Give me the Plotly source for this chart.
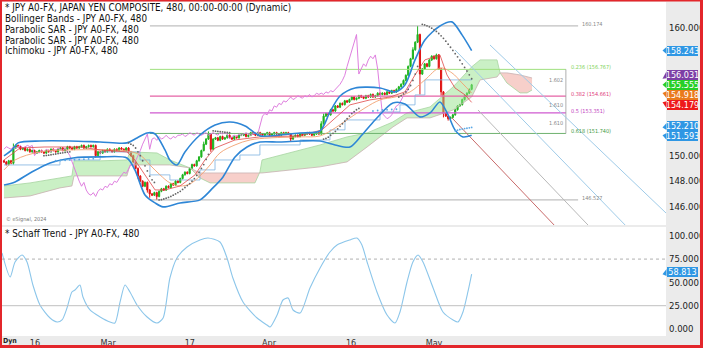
import plotly.graph_objects as go

W, H = 703, 348

# ---------------- price data (8-hour bars, bar index 0..199) ----------------
CLOSE = [
    149.5, 149.3, 149.6, 149.4,
    150.6, 150.8,
    150.7, 150.5, 150.6, 150.4, 150.5, 150.3, 150.4, 150.2, 150.3, 150.4,
    150.3, 150.2, 150.4, 150.3, 150.5, 150.4, 150.3, 150.5, 150.6, 150.4, 150.5, 150.7,
    150.6, 150.5, 150.7, 150.6, 150.7, 150.8, 150.6, 150.7, 150.8, 150.7, 150.8,
    150.0,
    150.3, 150.2, 150.4, 150.3, 150.5, 150.4, 150.3, 150.5, 150.4, 150.6, 150.5, 150.4, 150.6,
    150.3, 150.0, 149.5, 149.0, 148.4,
    148.0, 147.6, 147.9, 147.3,
    147.0, 146.9, 147.1, 146.8,
    147.2, 147.4, 147.3, 147.6, 147.5, 147.8, 147.7, 148.0, 147.9, 148.2,
    148.5, 148.7, 148.6, 149.0, 149.3, 149.2, 149.6, 149.9,
    150.4, 150.9, 151.3, 151.7,
    150.5,
    151.3, 151.4, 151.2, 151.5, 151.3, 151.4, 151.6, 151.4, 151.3, 151.5, 151.4, 151.6,
    151.6, 151.7, 151.5, 151.6, 151.8, 151.7, 151.6, 151.8, 151.7, 151.6, 151.7, 151.8,
    151.6, 151.7, 151.8, 151.7, 151.6, 151.8, 151.7, 151.8, 151.7,
    151.3,
    151.5, 151.6, 151.5, 151.7, 151.6, 151.7, 151.8, 151.7, 151.6, 151.7, 151.8, 151.7,
    152.5, 153.1,
    153.3, 153.2, 153.6, 153.5, 153.9, 153.8, 154.1, 154.0, 154.3, 154.2, 154.4,
    154.6, 154.4, 154.5, 154.7, 154.6, 154.5, 154.7, 154.6, 154.8, 154.6, 154.7, 154.9, 154.8,
    154.9, 154.8, 155.0, 154.9, 155.1, 155.0, 155.2,
    155.4, 155.6, 155.9, 156.3,
    157.0, 157.6, 158.3,
    158.9, 159.5,
    156.4,
    156.8, 157.2, 157.0, 157.5, 157.8, 157.6, 157.9,
    156.8, 155.0, 153.3,
    153.1, 152.9, 153.0, 153.2,
    153.6, 153.9, 154.0, 154.4, 154.7, 154.9, 155.2, 155.555,
]
FIRST_OPEN = 149.6
HIGH_WICKS = {4: 150.95, 85: 151.1, 87: 151.9, 135: 152.7, 136: 153.3, 174: 158.5,
              176: 160.174, 184: 158.0}
LOW_WICKS = {4: 149.3, 39: 149.85, 57: 148.2, 61: 147.1, 62: 146.7, 65: 146.527,
             88: 150.3, 122: 151.1, 177: 154.8, 186: 154.7, 187: 153.0, 189: 152.75}
TYPICAL_WICK = 0.07

# ---------------- indicator readings (bar, value) ----------------
BB_UPPER = [(0, 149.98), (3.4, 150.45), (6, 151.0), (15.3, 151.15), (28.1, 151.15),
            (40.9, 151.07), (52.3, 151.0), (56.6, 151.39), (60.9, 151.78), (64.3, 151.7),
            (68.5, 150.45), (70.6, 149.66), (73.6, 149.27), (77, 150.29), (83.4, 151.62),
            (89.8, 152.41), (96.2, 152.64), (102.6, 152.33), (108.9, 151.55), (117.4, 151.62),
            (126, 151.78), (134.5, 151.94), (138.7, 153.43), (143, 154.68), (149.4, 155.31),
            (160, 155.31), (166.4, 155.0), (170.6, 155.55), (174.9, 157.51), (179.1, 159.07),
            (185.5, 160.17), (190.6, 160.49), (194.9, 159.47), (199, 158.243)]
BB_LOWER = [(0, 147.70), (4.7, 147.94), (11.1, 148.64), (19.6, 149.43), (29.4, 149.82),
            (40.9, 149.9), (52.3, 149.82), (55.7, 148.88), (60, 146.92), (64.3, 146.29),
            (67.7, 145.98), (74.9, 146.29), (83.4, 146.53), (88.9, 147.47), (93.2, 148.33),
            (98.3, 149.9), (103.4, 150.68), (108.9, 151.07), (117.4, 151.07), (126, 151.15),
            (134.5, 151.15), (140.9, 150.84), (147.2, 150.68), (152.3, 151.62), (157.9, 152.8),
            (165.5, 154.13), (170.6, 154.05), (177, 153.04), (181.3, 153.35), (185.5, 154.21),
            (189, 153.19), (191.9, 152.02), (195.3, 151.47), (199, 151.593)]
BB_MID = [(0, 148.88), (4.7, 149.66), (15.3, 150.29), (28.1, 150.45), (40.9, 150.45),
          (52.3, 150.37), (57.9, 150.05), (62.1, 149.27), (66.4, 148.49), (70.6, 147.86),
          (74.9, 147.62), (79.1, 147.78), (83.4, 148.41), (87.7, 149.27), (91.9, 150.21),
          (98.3, 150.84), (104.7, 151.23), (113.2, 151.39), (126, 151.47), (134.5, 151.55),
          (140.9, 152.17), (147.2, 152.96), (153.6, 153.74), (160, 154.37), (166.4, 154.6),
          (172.8, 155.0), (179.1, 155.94), (185.5, 156.88), (190.6, 156.49), (194.9, 155.70),
          (199, 154.918)]
TENKAN = [(0, 149.66), (6.8, 150.6), (17.4, 150.68), (32.3, 150.68), (40.9, 150.45),
          (52.3, 150.29), (55.7, 149.66), (60, 148.49), (64.3, 147.31), (68.5, 147.31),
          (74.9, 147.62), (81.3, 148.49), (85.5, 149.66), (89.8, 150.6), (98.3, 151.23),
          (108.9, 151.47), (126, 151.55), (135.3, 152.02), (140.9, 152.96), (147.2, 153.98),
          (155.7, 154.37), (164.3, 154.6), (170.6, 155.0), (174.9, 156.33), (179.1, 157.51),
          (185.5, 157.9), (188.5, 156.33), (191.9, 155.31), (196.2, 154.76), (199, 154.179)]
KIJUN = [(0, 149.27), (23.8, 149.66), (40.9, 150.29), (52.3, 150.29), (57.9, 149.66),
         (62.1, 148.49), (70.6, 148.09), (77, 148.09), (83.4, 148.88), (89.8, 149.66),
         (100.4, 150.05), (108.9, 150.84), (126, 151.23), (138.7, 152.02), (145.1, 152.8),
         (160, 153.43), (168.5, 153.98), (174.9, 154.76), (179.1, 155.94), (199, 156.031)]
# Senkou span A / B (cloud), projected 26 bars ahead
CLOUD_X = [0, 11.1, 23.8, 28.9, 29.8, 40.9, 52.3, 53.6, 65.1, 70.6, 79.1, 83.4, 87.7,
           106.8, 108.9, 109.8, 134.5, 146, 154.5, 165.5, 171.5, 181.3, 191.1, 199,
           202.6, 209.8, 211.1, 214, 219.6, 222.6, 224.7]
SENKOU_A = [147.62, 147.86, 148.25, 148.41, 149.59, 149.59, 149.66, 150.29, 150.21, 149.66,
            149.04, 148.25, 147.86, 147.86, 148.72, 149.66, 150.84, 151.47, 151.78, 152.64,
            153.35, 153.82, 155.39, 156.96, 157.51, 157.51, 156.49, 155.70, 154.92, 154.92,
            155.15]
SENKOU_B = [146.68, 146.84, 147.47, 147.62, 148.41, 148.41, 148.41, 149.27, 149.27, 149.27,
            149.04, 148.64, 148.64, 148.64, 148.64, 148.64, 149.12, 149.51, 150.68, 152.25,
            152.96, 152.96, 153.58, 154.60, 155.94, 156.17, 156.49, 156.49, 156.33, 156.17,
            156.09]
CHIKOU_SHIFT = 26

SAR_BLACK = [(17, 150.0), (18, 150.02), (19, 150.04), (20, 150.07), (21, 150.1), (22, 150.13),
             (23, 150.16), (24, 150.19), (25, 150.22), (26, 150.25), (27, 150.28), (28, 150.3),
             (53, 151.0), (54, 150.9), (55, 150.8), (56, 150.6), (57, 150.3), (58, 150.0),
             (59, 149.6), (60, 149.2), (61, 148.8), (62, 148.4), (63, 148.1), (64, 147.9),
             (66, 146.53), (67, 146.55), (68, 146.6), (69, 146.66), (70, 146.72), (71, 146.8),
             (72, 146.9), (73, 147.0), (74, 147.1), (75, 147.2), (76, 147.35), (77, 147.5),
             (78, 147.65), (79, 147.8), (80, 148.0), (81, 148.2), (82, 148.45), (83, 148.7),
             (84, 149.0), (85, 149.3), (86, 149.7), (87, 150.1),
             (89, 151.95), (90, 151.92), (91, 151.9), (92, 151.88), (93, 151.86), (94, 151.84),
             (95, 151.82), (96, 151.8),
             (136, 151.3), (137, 151.35), (138, 151.45), (139, 151.6), (140, 151.75),
             (141, 151.9), (142, 152.1), (143, 152.3), (144, 152.5), (145, 152.7), (146, 152.9),
             (147, 153.1), (148, 153.3), (149, 153.45), (150, 153.6), (151, 153.7),
             (168, 154.6), (169, 154.7), (170, 154.85), (171, 155.0), (172, 155.2),
             (173, 155.5), (174, 155.9), (175, 156.4), (176, 157.0),
             (178, 160.30), (179, 160.25), (180, 160.18), (181, 160.10), (182, 160.00),
             (183, 159.88), (184, 159.74), (185, 159.58), (186, 159.40), (187, 159.20),
             (188, 158.98), (189, 158.74), (190, 158.50), (191, 158.25), (192, 158.00),
             (193, 157.75), (194, 157.48), (195, 157.20), (196, 156.92), (197, 156.64),
             (198, 156.34), (199, 156.031)]
SAR_BLUE = [(22, 149.6), (24, 149.62), (26, 149.64), (28, 149.66), (30, 149.68), (32, 149.7),
            (34, 149.72), (36, 149.74), (38, 149.76),
            (157, 153.5), (159, 153.54), (161, 153.58), (163, 153.6), (165, 153.62), (167, 153.64),
            (192, 151.95), (193, 152.0), (194, 152.05), (195, 152.08), (196, 152.12),
            (197, 152.15), (198, 152.18), (199, 152.21)]

# Fibonacci retracement (low 146.527 -> high 160.174)
FIB_LEVELS = [160.174, 156.767, 154.661, 153.351, 151.740, 146.527]
FIB_TEXT = ["160.174", "0.236 (156.767)", "0.382 (154.661)", "0.5 (153.351)",
            "0.618 (151.740)", "146.527"]
FIB_COLORS = ["#b0b0b0", "#9ee07e", "#e563a6", "#cf5ad0", "#6fb26f", "#b0b0b0"]
FIB_TEXT_COLORS = ["#888888", "#7fd35a", "#e0407a", "#c040c0", "#3f9a3f", "#888888"]
FIB_START = 62.1
FIB_END_OUTER = 244.3
FIB_END_INNER = 239.1
FIB_RATIOS = [(155.95, "1.602"), (154.0, "1.610"), (152.55, "1.610")]

# Pitchfork-style trend lines: (bar0, price0, bar1, price1, colour)
TREND_LINES = [(190.6, 152.96, 234.5, 144.48, "#c86a6a"),
               (201.7, 153.58, 248.5, 144.56, "#b8b8b8"),
               (191.9, 158.29, 264.3, 144.56, "#9fcbe8"),
               (206.8, 158.68, 281.7, 145.5, "#9fcbe8")]

# Schaff Trend Cycle readings (bar, value)
STC = [(-0.85, 81.5), (2.6, 55.8), (4.7, 71.9), (7.7, 79.4), (9.8, 71.9), (12.3, 47.2),
       (15.3, 25.8), (19.6, 11.8), (22.6, 7.5), (24.7, 9.7), (26.8, 22.5), (28.9, 39.7),
       (30.2, 41.8), (32.3, 47.2), (33.6, 34.3), (36.6, 20.4), (40.9, 12.9), (45.1, 7.5),
       (47.2, 6.4), (49.4, 29), (51.5, 47.2), (53.6, 39.7), (56.6, 25.8), (60.9, 12.9),
       (65.1, 6.4), (67.7, 11.8), (70.6, 54.7), (73.6, 76.2), (77.9, 88), (83.4, 95.5),
       (86.8, 97.6), (91.9, 93.3), (94.9, 76.2), (97.4, 54.7), (101.7, 29), (107.7, 11.8),
       (111.9, 4.3), (113.2, 2.1), (116.2, 15), (118.7, 31.1), (120.9, 33.3), (123, 20.4),
       (126, 17.2), (130.2, 44), (134.5, 65.5), (138.7, 82.6), (141.7, 90.1), (147.2, 95.5),
       (150.2, 97.6), (152.3, 90.1), (154.5, 71.9), (158.7, 39.7), (163, 15), (166.4, 6.4),
       (168.5, 18.2), (171.5, 50.4), (174, 71.9), (176.2, 79.4), (178.3, 71.9), (182.6, 44),
       (186.8, 18.2), (191.1, 9.7), (193.2, 7.5), (195.3, 18.2), (197.4, 39.7), (199, 58.813)]

# Right-hand value tags (value, colour)
PRICE_TAGS = [(158.243, "#2f97e4"), (152.210, "#2f97e4"), (151.593, "#2f97e4"),
              (156.031, "#7d3fa6"), (155.555, "#27cf27"), (154.918, "#ea7a1c"),
              (154.179, "#ee1a1a")]
STC_TAGS = [(58.813, "#2f97e4")]

PRICE_TICKS = [146, 148, 150, 160]
STC_TICKS = [0, 25, 50, 75, 100]
DATE_TICKS = [13.2, 44.3, 79.1, 112.8, 147.7, 183.0]
DATE_LABELS = ["16", "Mar", "17", "Apr", "16", "May"]

TITLES = ["* JPY A0-FX, JAPAN YEN COMPOSITE, 480, 00:00-00:00 (Dynamic)",
          "Bollinger Bands - JPY A0-FX, 480",
          "Parabolic SAR - JPY A0-FX, 480",
          "Parabolic SAR - JPY A0-FX, 480",
          "Ichimoku - JPY A0-FX, 480"]
STC_TITLE = "* Schaff Trend - JPY A0-FX, 480"

# ---------------- layout geometry ----------------
X_RANGE = [-0.85, 281.7]
PRICE_RANGE = [144.56, 162.05]
STC_RANGE = [-7.5, 109.4]
PRICE_PX = (2, 225)     # top / bottom pixel of price pane
STC_PX = (227, 336)
X_DOM = [2 / W, 666 / W]
PRICE_DOM = [1 - PRICE_PX[1] / H, 1 - PRICE_PX[0] / H]
STC_DOM = [1 - STC_PX[1] / H, 1 - STC_PX[0] / H]
FONT = "Liberation Sans Narrow, Arial Narrow, DejaVu Sans Condensed, Liberation Sans, Arial"
TAG_FONT = 9
TAG_H = 10            # pixel height of a value tag

# ---------------- build candles ----------------
bars = list(range(len(CLOSE)))
opens = [FIRST_OPEN] + CLOSE[:-1]
highs, lows = [], []
for i, (o, c) in enumerate(zip(opens, CLOSE)):
    highs.append(HIGH_WICKS.get(i, max(o, c) + TYPICAL_WICK))
    lows.append(LOW_WICKS.get(i, min(o, c) - TYPICAL_WICK))

fig = go.Figure()


def xy(pairs):
    return [p[0] for p in pairs], [p[1] for p in pairs]


# cloud with crossing points inserted
cx, ca, cb = [CLOUD_X[0]], [SENKOU_A[0]], [SENKOU_B[0]]
for k in range(1, len(CLOUD_X)):
    x0, x1 = CLOUD_X[k - 1], CLOUD_X[k]
    d0 = SENKOU_A[k - 1] - SENKOU_B[k - 1]
    d1 = SENKOU_A[k] - SENKOU_B[k]
    if d0 * d1 < 0:
        t = d0 / (d0 - d1)
        xc = x0 + t * (x1 - x0)
        yc = SENKOU_A[k - 1] + t * (SENKOU_A[k] - SENKOU_A[k - 1])
        cx.append(xc); ca.append(yc); cb.append(yc)
    cx.append(x1); ca.append(SENKOU_A[k]); cb.append(SENKOU_B[k])
cmax = [max(a, b) for a, b in zip(ca, cb)]

fig.add_trace(go.Scatter(x=cx, y=cb, mode="lines", line=dict(width=0)))
fig.add_trace(go.Scatter(x=cx, y=cmax, mode="lines", line=dict(width=0), fill="tonexty",
                         fillcolor="rgba(150,225,140,0.5)"))
fig.add_trace(go.Scatter(x=cx, y=ca, mode="lines", line=dict(width=0)))
fig.add_trace(go.Scatter(x=cx, y=cmax, mode="lines", line=dict(width=0), fill="tonexty",
                         fillcolor="rgba(240,160,150,0.5)"))
fig.add_trace(go.Scatter(x=CLOUD_X, y=SENKOU_A, mode="lines",
                         line=dict(color="#a6d4a0", width=0.8)))
fig.add_trace(go.Scatter(x=CLOUD_X, y=SENKOU_B, mode="lines",
                         line=dict(color="#c8b0b0", width=0.8)))

# fibonacci lines
for k, (lvl, col) in enumerate(zip(FIB_LEVELS, FIB_COLORS)):
    end = FIB_END_OUTER if k in (0, len(FIB_LEVELS) - 1) else FIB_END_INNER
    fig.add_trace(go.Scatter(x=[FIB_START, end], y=[lvl, lvl], mode="lines",
                             line=dict(color=col, width=1.2 if k in (2, 3) else 1)))
fig.add_trace(go.Scatter(x=[FIB_END_INNER, FIB_END_INNER], y=[FIB_LEVELS[1], FIB_LEVELS[4]],
                         mode="lines", line=dict(color="#999999", width=0.8)))

# trend lines
for b0, p0, b1, p1, col in TREND_LINES:
    fig.add_trace(go.Scatter(x=[b0, b1], y=[p0, p1], mode="lines",
                             line=dict(color=col, width=1)))

# Ichimoku thin lines, BB
kx, ky = xy(KIJUN)
fig.add_trace(go.Scatter(x=kx, y=ky, mode="lines",
                         line=dict(color="#7fb3e0", width=0.8, shape="hv")))
fig.add_trace(go.Scatter(x=bars[:-CHIKOU_SHIFT], y=CLOSE[CHIKOU_SHIFT:], mode="lines",
                         line=dict(color="#df7fdf", width=1)))
mx, my = xy(BB_MID)
fig.add_trace(go.Scatter(x=mx, y=my, mode="lines",
                         line=dict(color="#f2a070", width=0.9, shape="spline")))
tx, ty = xy(TENKAN)
fig.add_trace(go.Scatter(x=tx, y=ty, mode="lines", line=dict(color="#e04848", width=0.8)))
for band in (BB_UPPER, BB_LOWER):
    bx, by = xy(band)
    fig.add_trace(go.Scatter(x=bx, y=by, mode="lines",
                             line=dict(color="#2e86d6", width=1.6, shape="spline",
                                       smoothing=0.8)))

fig.add_trace(go.Candlestick(
    x=bars, open=opens, high=highs, low=lows, close=CLOSE,
    increasing=dict(line=dict(color="#1fb41f", width=1), fillcolor="#1fb41f"),
    decreasing=dict(line=dict(color="#e01414", width=1), fillcolor="#e01414"),
    whiskerwidth=0))

sx, sy = xy(SAR_BLACK)
fig.add_trace(go.Scatter(x=sx, y=sy, mode="markers", marker=dict(color="#666666", size=1.8)))
sx, sy = xy(SAR_BLUE)
fig.add_trace(go.Scatter(x=sx, y=sy, mode="markers", marker=dict(color="#5aa8e6", size=1.8)))

# Schaff trend
stx, sty = xy(STC)
fig.add_trace(go.Scatter(x=stx, y=sty, mode="lines", xaxis="x2", yaxis="y2",
                         line=dict(color="#8cc6ea", width=1.1, shape="spline",
                                   smoothing=0.7)))

fig.update_traces(hoverinfo="skip", showlegend=False)


# ---- tag placement: keep tags from overlapping each other / tick labels ----
def to_px(v, rng, px):
    return px[0] + (rng[1] - v) / (rng[1] - rng[0]) * (px[1] - px[0])


def from_px(p, rng, px):
    return rng[1] - (p - px[0]) / (px[1] - px[0]) * (rng[1] - rng[0])


def spread(centers, gap):
    """Group colliding tags and space each group evenly around its mean."""
    order = sorted(range(len(centers)), key=lambda i: centers[i])
    groups = []
    for i in order:
        groups.append([i])
        while len(groups) > 1:
            a, b = groups[-2], groups[-1]
            ma = sum(centers[j] for j in a) / len(a)
            mb = sum(centers[j] for j in b) / len(b)
            bottom_a = ma + gap * (len(a) - 1) / 2
            top_b = mb - gap * (len(b) - 1) / 2
            if top_b - bottom_a < gap:
                groups[-2] = a + b
                groups.pop()
            else:
                break
    pos = {}
    for g in groups:
        m = sum(centers[j] for j in g) / len(g)
        start = m - gap * (len(g) - 1) / 2
        for n, j in enumerate(g):
            pos[j] = start + n * gap
    return [pos[i] for i in range(len(centers))]


tag_px = spread([to_px(v, PRICE_RANGE, PRICE_PX) for v, _ in PRICE_TAGS], TAG_H)
stc_px = [min(to_px(v, STC_RANGE, STC_PX), to_px(50, STC_RANGE, STC_PX) - TAG_H)
          for v, _ in STC_TAGS]

TAG_X0 = 662.5 / W
TAG_X1 = 666.5 / W
shapes = []
shapes.append(dict(type="line", xref="x2", yref="y2", x0=X_RANGE[0], x1=X_RANGE[1],
                   y0=75, y1=75, line=dict(color="#b0b0b0", width=1, dash="dot")))
shapes.append(dict(type="line", xref="x2", yref="y2", x0=X_RANGE[0], x1=X_RANGE[1],
                   y0=25, y1=25, line=dict(color="#c0c0c0", width=1)))
for (val, col), p in zip(PRICE_TAGS, tag_px):
    yv = from_px(p, PRICE_RANGE, PRICE_PX)
    d = (PRICE_RANGE[1] - PRICE_RANGE[0]) / (PRICE_PX[1] - PRICE_PX[0]) * 3.5
    shapes.append(dict(type="path", xref="paper", yref="y",
                       path=f"M {TAG_X0},{val} L {TAG_X1},{yv + d} L {TAG_X1},{yv - d} Z",
                       fillcolor=col, line=dict(width=0)))
for (val, col), p in zip(STC_TAGS, stc_px):
    yv = from_px(p, STC_RANGE, STC_PX)
    d = (STC_RANGE[1] - STC_RANGE[0]) / (STC_PX[1] - STC_PX[0]) * 3.5
    shapes.append(dict(type="path", xref="paper", yref="y2",
                       path=f"M {TAG_X0},{val} L {TAG_X1},{yv + d} L {TAG_X1},{yv - d} Z",
                       fillcolor=col, line=dict(width=0)))
RED = "#e3262b"
shapes += [
    dict(type="rect", xref="paper", yref="paper", x0=0, x1=2 / W, y0=0, y1=1,
         fillcolor=RED, line=dict(width=0)),
    dict(type="rect", xref="paper", yref="paper", x0=700 / W, x1=1, y0=0, y1=1,
         fillcolor=RED, line=dict(width=0)),
    dict(type="rect", xref="paper", yref="paper", x0=0, x1=1, y0=0, y1=3 / H,
         fillcolor=RED, line=dict(width=0)),
    dict(type="rect", xref="paper", yref="paper", x0=0, x1=1, y0=1 - 1.5 / H, y1=1,
         fillcolor=RED, line=dict(width=0)),
]

annotations = []
for k, t in enumerate(TITLES):
    annotations.append(dict(text=t, xref="paper", yref="paper", x=3 / W,
                            y=1 - (8 + 10.7 * k) / H, xanchor="left", yanchor="middle",
                            showarrow=False, font=dict(family=FONT, size=9.8, color="#111")))
annotations.append(dict(text=STC_TITLE, xref="paper", yref="paper", x=3 / W,
                        y=1 - 233 / H, xanchor="left", yanchor="middle", showarrow=False,
                        font=dict(family=FONT, size=9.8, color="#111")))
annotations.append(dict(text="© eSignal, 2024", xref="paper", yref="paper", x=4 / W,
                        y=1 - 219 / H, xanchor="left", yanchor="middle", showarrow=False,
                        font=dict(family=FONT, size=5.5, color="#777")))
annotations.append(dict(text="<b>Dyn</b>", xref="paper", yref="paper", x=1 / W,
                        y=1 - 341 / H, xanchor="left", yanchor="middle", showarrow=False,
                        font=dict(family=FONT, size=7, color="#222")))
for k, (lvl, txt, col) in enumerate(zip(FIB_LEVELS, FIB_TEXT, FIB_TEXT_COLORS)):
    xpos = FIB_END_OUTER + 0.9 if k in (0, len(FIB_LEVELS) - 1) else FIB_END_INNER + 1.3
    annotations.append(dict(text=txt, x=xpos, y=lvl, xref="x", yref="y", xanchor="left",
                            yanchor="middle", yshift=2, showarrow=False,
                            font=dict(family=FONT, size=5.5, color=col)))
for val, txt in FIB_RATIOS:
    annotations.append(dict(text=txt, x=FIB_END_INNER - 0.4, y=val, xref="x", yref="y",
                            xanchor="right", yanchor="middle", showarrow=False,
                            font=dict(family=FONT, size=5.5, color="#888")))
for (val, col), p in zip(PRICE_TAGS, tag_px):
    annotations.append(dict(text=f"{val:.3f}", xref="paper", yref="y", x=TAG_X1,
                            y=from_px(p, PRICE_RANGE, PRICE_PX), xanchor="left",
                            yanchor="middle", showarrow=False, bgcolor=col, borderpad=0,
                            borderwidth=0, width=31,
                            font=dict(family=FONT, size=TAG_FONT, color="white")))
for (val, col), p in zip(STC_TAGS, stc_px):
    annotations.append(dict(text=f"{val:.3f}", xref="paper", yref="y2", x=TAG_X1,
                            y=from_px(p, STC_RANGE, STC_PX), xanchor="left",
                            yanchor="middle", showarrow=False, bgcolor=col, borderpad=0,
                            borderwidth=0, width=31,
                            font=dict(family=FONT, size=TAG_FONT, color="white")))

axis_common = dict(showgrid=False, zeroline=False, showline=False, fixedrange=True)
fig.update_layout(
    width=W, height=H, margin=dict(l=0, r=0, t=0, b=0),
    paper_bgcolor="#ebebeb", plot_bgcolor="white", showlegend=False,
    font=dict(family=FONT),
    xaxis=dict(domain=X_DOM, range=X_RANGE, showticklabels=False, anchor="y",
               rangeslider=dict(visible=False), **axis_common),
    yaxis=dict(domain=PRICE_DOM, range=PRICE_RANGE, side="right", anchor="x",
               tickvals=PRICE_TICKS, ticktext=[f"{v:.3f}" for v in PRICE_TICKS],
               ticks="", ticklabelstandoff=2,
               tickfont=dict(family=FONT, size=9.5, color="#222"), **axis_common),
    xaxis2=dict(domain=X_DOM, range=X_RANGE, anchor="y2", tickvals=DATE_TICKS,
                ticktext=DATE_LABELS, ticks="", ticklabelstandoff=0,
                tickfont=dict(family=FONT, size=9, color="#333"), **axis_common),
    yaxis2=dict(domain=STC_DOM, range=STC_RANGE, side="right", anchor="x2",
                tickvals=STC_TICKS, ticktext=[f"{v:.3f}" for v in STC_TICKS],
                ticks="", ticklabelstandoff=2,
                tickfont=dict(family=FONT, size=9.5, color="#222"), **axis_common),
    shapes=shapes, annotations=annotations,
)

fig.write_html("out.html")
